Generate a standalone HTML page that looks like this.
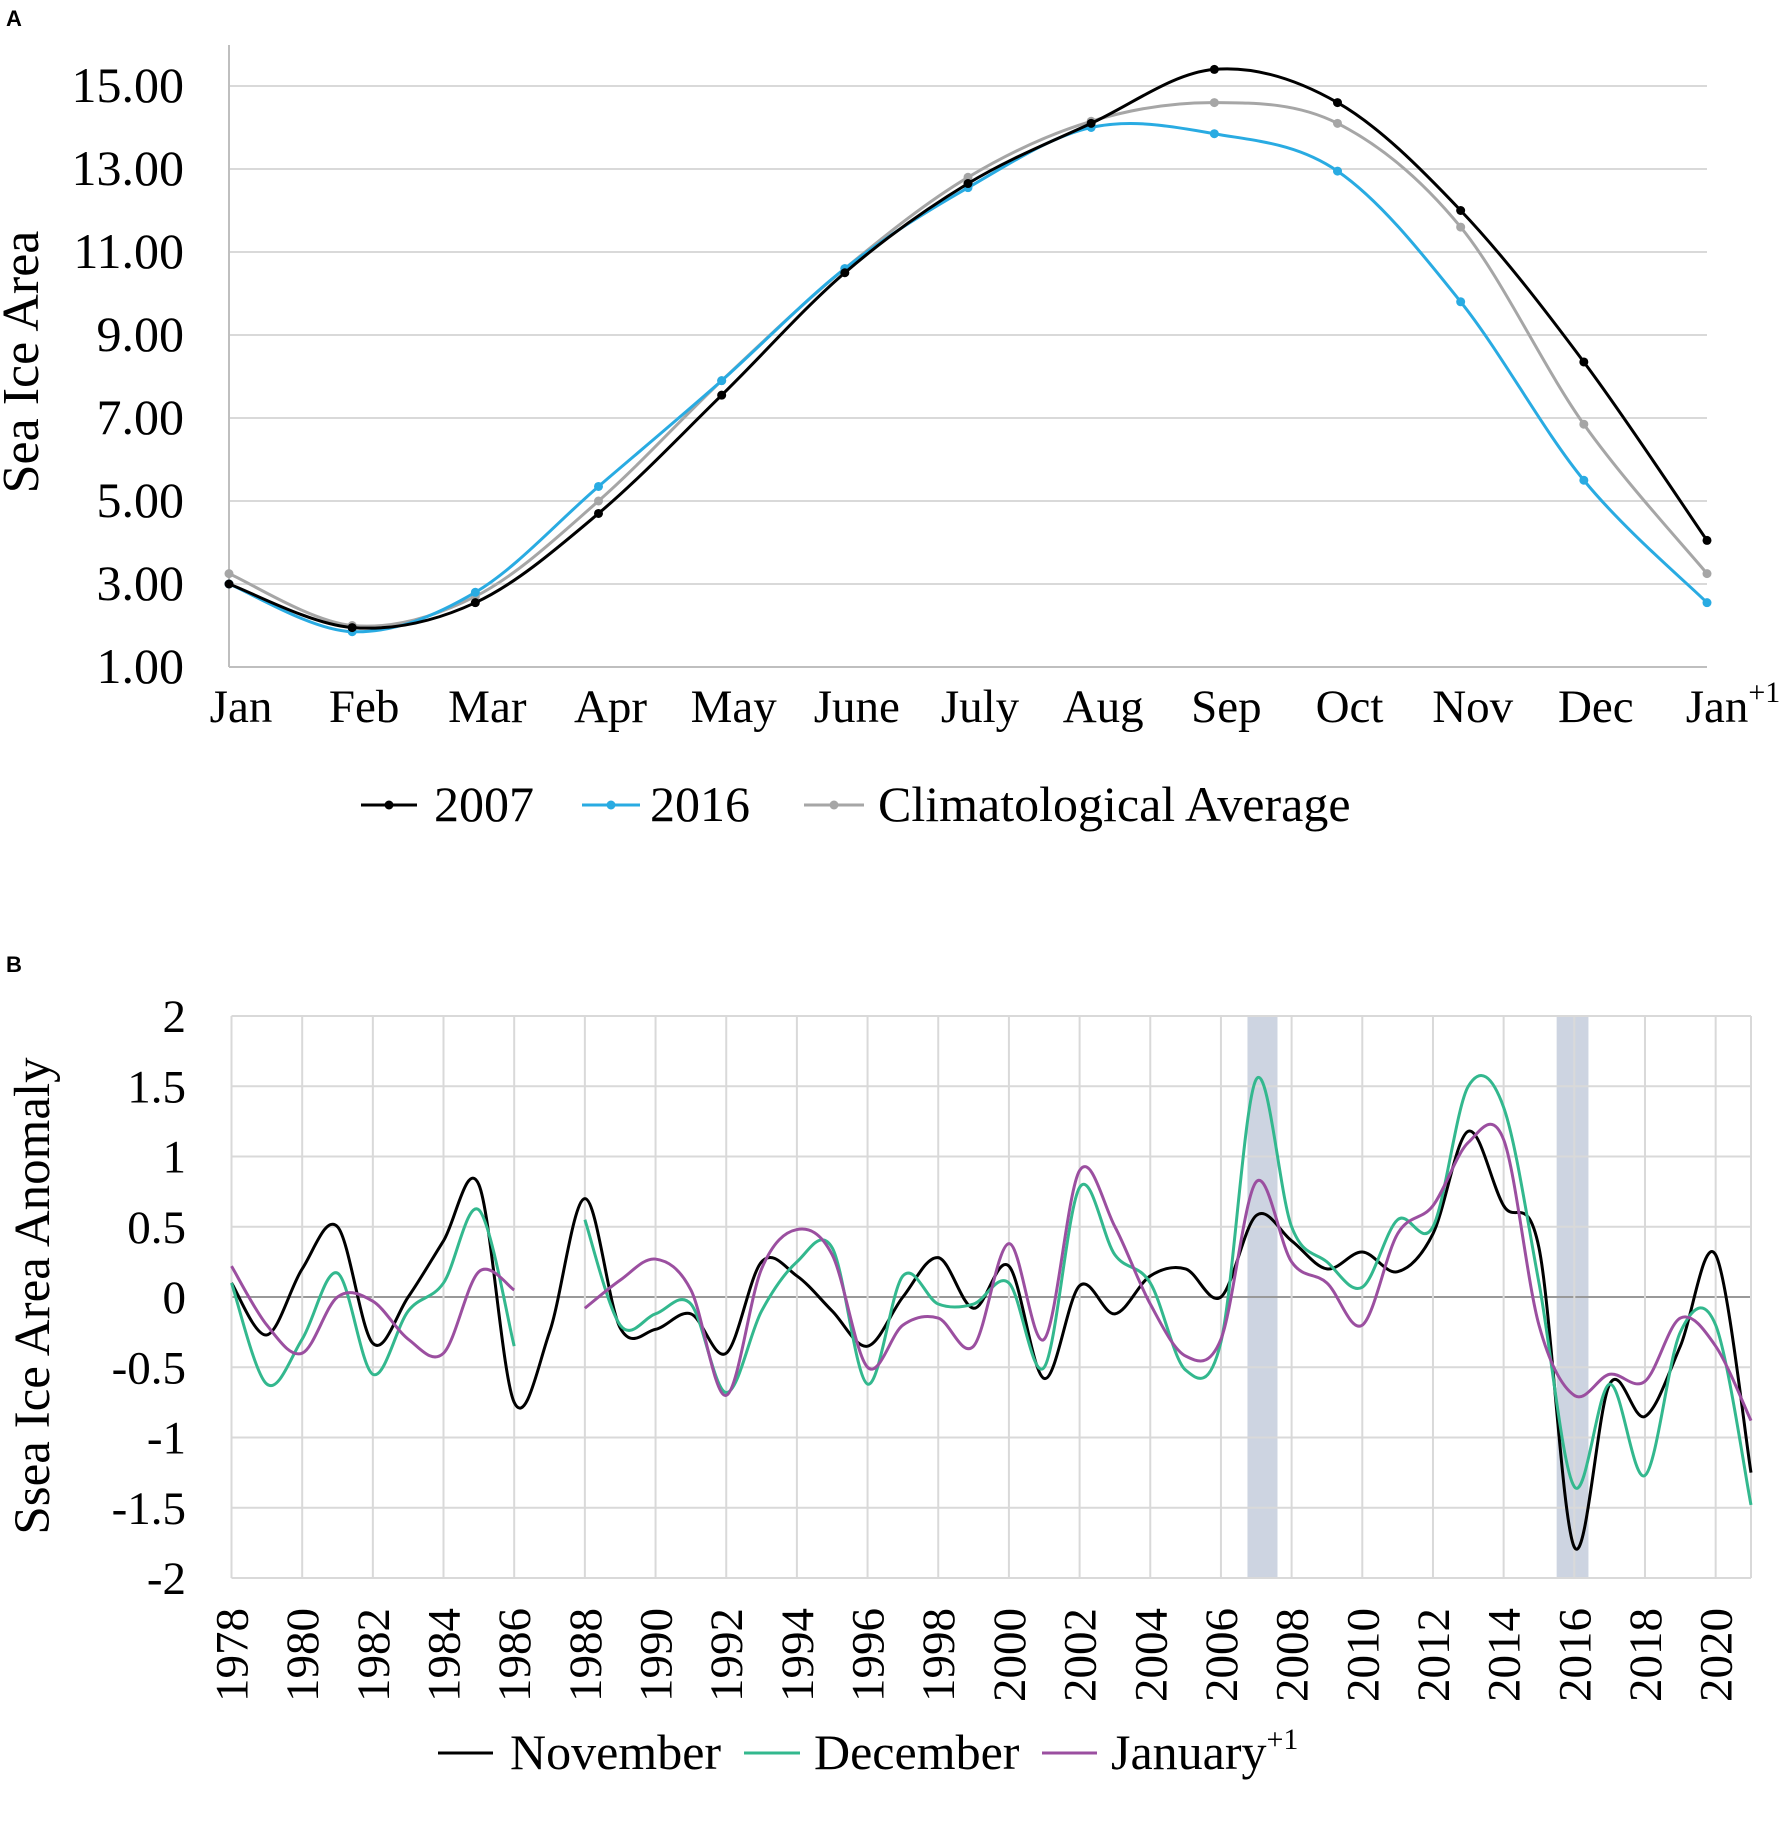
<!DOCTYPE html>
<html><head><meta charset="utf-8"><style>
body{margin:0;background:#fff;}
svg{display:block;font-family:"Liberation Serif",serif;}
</style></head><body>
<svg id="chart" width="1786" height="1846" viewBox="0 0 1786 1846" xmlns="http://www.w3.org/2000/svg">
<text x="6" y="26" font-family="Liberation Sans, sans-serif" font-weight="bold" font-size="22">A</text>
<text x="6" y="972" font-family="Liberation Sans, sans-serif" font-weight="bold" font-size="22">B</text>
<g id="A"></g>
<g id="B"></g>
</svg>
<script>
// Panel A data
const monthsA = ["Jan","Feb","Mar","Apr","May","June","July","Aug","Sep","Oct","Nov","Dec","Jan"];
const s2007 = [3.0,1.95,2.55,4.7,7.55,10.5,12.65,14.1,15.4,14.6,12.0,8.35,4.05];
const s2016 = [3.0,1.85,2.8,5.35,7.9,10.6,12.55,14.0,13.85,12.95,9.8,5.5,2.55];
const sClim = [3.25,2.0,2.7,5.0,7.9,10.6,12.8,14.15,14.6,14.1,11.6,6.85,3.25];
const ticksA = [1,3,5,7,9,11,13,15];
// Panel B data
const yearsB = [1978,1979,1980,1981,1982,1983,1984,1985,1986,1987,1988,1989,1990,1991,1992,1993,1994,1995,1996,1997,1998,1999,2000,2001,2002,2003,2004,2005,2006,2007,2008,2009,2010,2011,2012,2013,2014,2015,2016,2017,2018,2019,2020,2021];
const novB = [0.1,-0.27,0.2,0.5,-0.33,0.0,0.4,0.8,-0.75,-0.25,0.7,-0.22,-0.23,-0.12,-0.4,0.25,0.15,-0.1,-0.35,0.0,0.28,-0.08,0.22,-0.58,0.08,-0.12,0.15,0.2,0.0,0.58,0.4,0.2,0.32,0.18,0.45,1.18,0.65,0.35,-1.78,-0.62,-0.85,-0.35,0.3,-1.25];
const decB = [0.1,-0.62,-0.3,0.17,-0.55,-0.1,0.1,0.62,-0.35,null,0.55,-0.2,-0.12,-0.05,-0.68,-0.1,0.25,0.35,-0.62,0.15,-0.05,-0.05,0.1,-0.5,0.78,0.3,0.1,-0.52,-0.32,1.55,0.5,0.25,0.07,0.55,0.5,1.5,1.35,0.1,-1.35,-0.62,-1.27,-0.25,-0.2,-1.48];
const janB = [0.22,-0.2,-0.4,0.0,-0.03,-0.3,-0.4,0.18,0.05,null,-0.08,0.12,0.27,0.05,-0.7,0.2,0.48,0.3,-0.5,-0.2,-0.15,-0.35,0.38,-0.3,0.9,0.5,-0.05,-0.42,-0.3,0.82,0.25,0.1,-0.2,0.45,0.65,1.1,1.12,-0.2,-0.7,-0.55,-0.6,-0.15,-0.35,-0.88];
const ticksB = [-2,-1.5,-1,-0.5,0,0.5,1,1.5,2];
const bandStarts = [2006.75,2015.5];
const bandEnds = [2007.6,2016.4];

const NS="http://www.w3.org/2000/svg";
function mk(parent,tag,attrs,text){const e=document.createElementNS(NS,tag);for(const k in attrs)e.setAttribute(k,attrs[k]);if(text!==undefined)e.textContent=text;parent.appendChild(e);return e;}
function spline(pts){
  let d="M"+pts[0][0]+","+pts[0][1];
  for(let i=0;i<pts.length-1;i++){
    const p0=pts[i-1]||pts[i],p1=pts[i],p2=pts[i+1],p3=pts[i+2]||pts[i+1];
    const c1=[p1[0]+(p2[0]-p0[0])/6,p1[1]+(p2[1]-p0[1])/6];
    const c2=[p2[0]-(p3[0]-p1[0])/6,p2[1]-(p3[1]-p1[1])/6];
    d+=" C"+c1[0]+","+c1[1]+" "+c2[0]+","+c2[1]+" "+p2[0]+","+p2[1];
  }
  return d;
}
// ---- Panel A ----
const A=document.getElementById("A");
const ax0=229,ax1=1707,ay0=667,ay1=86;
const xA=i=>ax0+i*(ax1-ax0)/12;
const yA=v=>ay0+(v-1)*(ay1-ay0)/14;
ticksA.forEach(t=>{
  if(t>1){const l=mk(A,"line",{x1:ax0,x2:ax1,y1:yA(t),y2:yA(t),stroke:"#d9d9d9","stroke-width":2});
  
  }
  const tx=mk(A,"text",{x:184,y:yA(t)+16,"text-anchor":"end","font-size":50},t.toFixed(2));
  
  
});
const axA=mk(A,"line",{x1:ax0,x2:ax1,y1:ay0,y2:ay0,stroke:"#bfbfbf","stroke-width":2});


const ayl=mk(A,"line",{x1:ax0,x2:ax0,y1:ay0,y2:45,stroke:"#bfbfbf","stroke-width":2});


monthsA.forEach((m,i)=>{
  const tx=mk(A,"text",{x:xA(i)+(i==12?26:12),y:722,"text-anchor":"middle","font-size":47},m);
  if(i==12){mk(tx,"tspan",{dy:-20,"font-size":30},"+1");}
  
  
});
const ytA=mk(A,"text",{x:0,y:0,"text-anchor":"middle","font-size":52,transform:"translate(38,362) rotate(-90)"},"Sea Ice Area");


[[sClim,"#a6a6a6","climatological-average"],[s2016,"#29abe2","series-2016"],[s2007,"#000000","series-2007"]].forEach(([s,c,n])=>{
  const pts=s.map((v,i)=>[xA(i),yA(v)]);
  const p=mk(A,"path",{d:spline(pts),fill:"none",stroke:c,"stroke-width":3});
  
  
  pts.forEach(q=>{const c2=mk(A,"circle",{cx:q[0],cy:q[1],r:4.5,fill:c});
    
    });
});
[[361,417,434,"#000","2007","legend-2007"],[582,640,650,"#29abe2","2016","legend-2016"],[804,864,878,"#a6a6a6","Climatological Average","legend-climatological"]].forEach(([a,b,t,c,l,n])=>{
  const g=mk(A,"g",{});
  
  
  mk(g,"line",{x1:a,x2:b,y1:805,y2:805,stroke:c,"stroke-width":3});
  mk(g,"circle",{cx:(a+b)/2,cy:805,r:4.5,fill:c});
  mk(g,"text",{x:t,y:821,"font-size":50},l);
});
// ---- Panel B ----
const B=document.getElementById("B");
const bx0=231.5,bx1=1751,by0=1578,by1=1016;
const xB=y=>bx0+(y-1978)*(bx1-bx0)/43;
const yB=v=>by0+(v+2)*(by1-by0)/4;
bandStarts.forEach((s,i)=>{
  const r=mk(B,"rect",{x:xB(s),y:by1,width:xB(bandEnds[i])-xB(s),height:by0-by1,fill:"#cdd4e1"});
  
  
});
ticksB.forEach(t=>{
  const l=mk(B,"line",{x1:bx0,x2:bx1,y1:yB(t),y2:yB(t),stroke:t==0?"#999":"#d9d9d9","stroke-width":2});
  
  
  const tx=mk(B,"text",{x:186,y:yB(t)+16,"text-anchor":"end","font-size":47},String(t));
  
  
});
for(let y=1978;y<=2021;y++){
  if((y%2==0)||y==2021){
    const l=mk(B,"line",{x1:xB(y),x2:xB(y),y1:by1,y2:by0,stroke:"#d9d9d9","stroke-width":2});
    
    
  }
  if(y%2==0){
    const tx=mk(B,"text",{x:0,y:0,"text-anchor":"end","font-size":47,transform:"translate("+(xB(y)+16)+",1608) rotate(-90)"},String(y));
    
    
  }
}
const ytB=mk(B,"text",{x:0,y:0,"text-anchor":"middle","font-size":51,transform:"translate(49,1296) rotate(-90)"},"Ssea Ice Area Anomaly");


[[novB,"#000","november"],[decB,"#33b88e","december"],[janB,"#9b4fa0","january"]].forEach(([s,c,n])=>{
  let segs=[],cur=[];
  s.forEach((v,i)=>{if(v===null){if(cur.length)segs.push(cur);cur=[];}else cur.push([xB(yearsB[i]),yB(v)]);});
  if(cur.length)segs.push(cur);
  segs.forEach(seg=>{
    const p=mk(B,"path",{d:spline(seg),fill:"none",stroke:c,"stroke-width":3});
    
    
  });
});
[[438,493,510,"#000","November","legend-november",false],[744,800,814,"#33b88e","December","legend-december",false],[1042,1097,1111,"#9b4fa0","January","legend-january",true]].forEach(([a,b,t,c,l,n,sup])=>{
  const g=mk(B,"g",{});
  
  
  mk(g,"line",{x1:a,x2:b,y1:1753,y2:1753,stroke:c,"stroke-width":3});
  const tx=mk(g,"text",{x:t,y:1769,"font-size":50},l);
  if(sup)mk(tx,"tspan",{dy:-20,"font-size":30},"+1");
});
</script>
</body></html>
